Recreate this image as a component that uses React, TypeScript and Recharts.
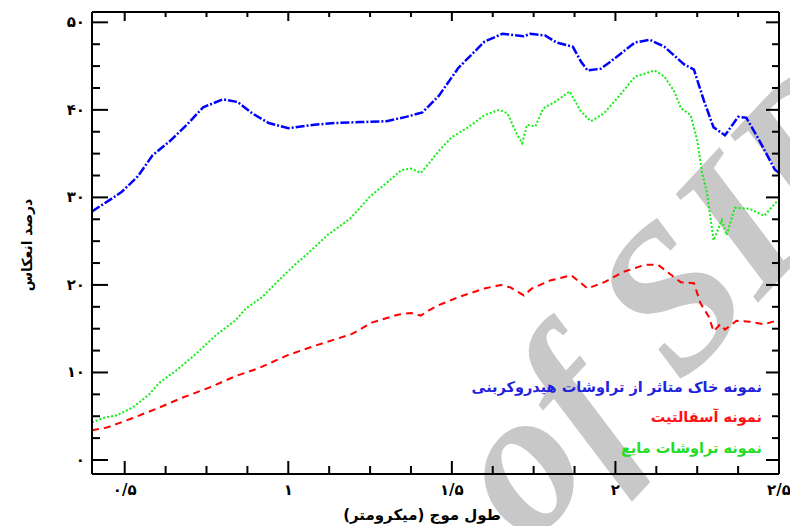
import React from 'react';
import { LineChart, Line, XAxis, YAxis } from 'recharts';

// wavelength (micrometre) / reflectance (%)
const blueX = [0.4, 0.45, 0.49, 0.54, 0.585, 0.64, 0.69, 0.74, 0.8, 0.845, 0.89, 0.94, 1.0, 1.08, 1.145, 1.22, 1.3, 1.36, 1.41, 1.46, 1.52, 1.6, 1.655, 1.72, 1.74, 1.785, 1.82, 1.87, 1.895, 1.915, 1.955, 1.985, 2.06, 2.105, 2.15, 2.21, 2.24, 2.27, 2.3, 2.335, 2.375, 2.4, 2.44, 2.487, 2.5];
const blueY = [28.4, 29.6, 30.6, 32.4, 34.8, 36.5, 38.3, 40.3, 41.2, 40.9, 39.6, 38.5, 37.9, 38.3, 38.5, 38.6, 38.7, 39.2, 39.7, 41.6, 44.8, 47.8, 48.7, 48.4, 48.7, 48.5, 47.7, 47.2, 45.5, 44.5, 44.7, 45.5, 47.7, 48.0, 47.2, 45.2, 44.6, 41.1, 38.0, 37.1, 39.2, 39.1, 36.5, 33.2, 32.8];

const redX = [0.4, 0.445, 0.525, 0.6, 0.675, 0.76, 0.84, 0.91, 1.0, 1.085, 1.195, 1.255, 1.335, 1.375, 1.405, 1.43, 1.46, 1.52, 1.6, 1.65, 1.68, 1.72, 1.745, 1.8, 1.865, 1.895, 1.915, 1.965, 2.025, 2.09, 2.13, 2.165, 2.2, 2.24, 2.26, 2.285, 2.3, 2.32, 2.335, 2.37, 2.41, 2.455, 2.49, 2.5];
const redY = [3.4, 3.7, 4.8, 5.9, 7.1, 8.3, 9.6, 10.5, 12.0, 13.1, 14.4, 15.7, 16.6, 16.8, 16.5, 17.1, 17.7, 18.6, 19.6, 20.0, 19.7, 18.8, 19.6, 20.5, 21.1, 20.2, 19.6, 20.3, 21.5, 22.3, 22.3, 21.3, 20.3, 20.2, 17.9, 16.4, 14.7, 15.5, 14.9, 15.9, 15.8, 15.5, 15.9, 16.0];

const greenX = [0.4, 0.435, 0.475, 0.525, 0.575, 0.605, 0.66, 0.72, 0.78, 0.84, 0.87, 0.92, 0.97, 1.02, 1.06, 1.12, 1.19, 1.25, 1.305, 1.345, 1.375, 1.405, 1.43, 1.46, 1.5, 1.55, 1.6, 1.645, 1.67, 1.695, 1.715, 1.73, 1.755, 1.78, 1.815, 1.86, 1.895, 1.925, 1.965, 2.005, 2.06, 2.12, 2.15, 2.18, 2.2, 2.23, 2.25, 2.265, 2.28, 2.3, 2.325, 2.34, 2.365, 2.41, 2.455, 2.49, 2.5];
const greenY = [4.3, 4.8, 5.1, 6.0, 7.5, 8.8, 10.3, 12.2, 14.3, 16.0, 17.3, 18.6, 20.5, 22.3, 23.6, 25.7, 27.6, 30.1, 31.8, 33.1, 33.3, 32.8, 33.9, 35.3, 36.9, 38.0, 39.4, 40.0, 39.6, 37.5, 36.2, 38.3, 38.1, 40.2, 40.9, 42.1, 39.8, 38.7, 39.6, 41.3, 43.8, 44.5, 43.8, 42.1, 40.2, 39.4, 36.5, 32.8, 30.5, 25.1, 27.4, 25.7, 28.8, 28.7, 27.9, 29.4, 29.7];

const xMajorTicks = [0.5, 1, 1.5, 2, 2.5];
const xTickLabels = ['۰/۵', '۱', '۱/۵', '۲', '۲/۵'];
const xMinorTicks = [0.625, 0.75, 0.875, 1.125, 1.25, 1.375, 1.625, 1.75, 1.875, 2.125, 2.25, 2.375];
const yMajorTicks = [0, 10, 20, 30, 40, 50];
const yTickLabels = ['۰', '۱۰', '۲۰', '۳۰', '۴۰', '۵۰'];
const yMinorTicks = [2.5, 5, 7.5, 12.5, 15, 17.5, 22.5, 25, 27.5, 32.5, 35, 37.5, 42.5, 45, 47.5];

const seriesNames = [
  'نمونه خاک متاثر از تراوشات هیدروکربنی',
  'نمونه آسفالتیت',
  'نمونه تراوشات مایع',
];
const xTitle = 'طول موج (میکرومتر)';
const yTitle = 'درصد انعکاس';

const zip = (xs: number[], ys: number[]) => xs.map((x, i) => ({ x, y: ys[i] }));
const blueData = zip(blueX, blueY);
const redData = zip(redX, redY);
const greenData = zip(greenX, greenY);

const FONT = '"DejaVu Sans", sans-serif';
const X_DOMAIN: [number, number] = [0.4, 2.5];
const Y_DOMAIN: [number, number] = [-1.6, 51.18];
const PLOT_W = 687;
const PLOT_H = 462;
// tick lengths are given in pixels, turned into axis units
const xu = (px: number) => (px * (X_DOMAIN[1] - X_DOMAIN[0])) / PLOT_W;
const yu = (px: number) => (px * (Y_DOMAIN[1] - Y_DOMAIN[0])) / PLOT_H;
const frame = { stroke: '#000', strokeWidth: 2 };

// inward tick marks as tiny two-point series, so they go through the chart's scales
type Pt = { x: number; y: number };
const tickMarks: { key: string; data: Pt[] }[] = [];
{
  const [x0, x1] = X_DOMAIN;
  const [y0, y1] = Y_DOMAIN;
  const add = (key: string, a: Pt, b: Pt) => tickMarks.push({ key, data: [a, b] });
  xMajorTicks.forEach((v) => {
    add(`bM${v}`, { x: v, y: y0 }, { x: v, y: y0 + yu(13) });
    add(`tM${v}`, { x: v, y: y1 }, { x: v, y: y1 - yu(9) });
  });
  xMinorTicks.forEach((v) => {
    add(`bm${v}`, { x: v, y: y0 }, { x: v, y: y0 + yu(8) });
    add(`tm${v}`, { x: v, y: y1 }, { x: v, y: y1 - yu(5) });
  });
  yMajorTicks.forEach((v) => {
    add(`lM${v}`, { x: x0, y: v }, { x: x0 + xu(16), y: v });
    add(`rM${v}`, { x: x1, y: v }, { x: x1 - xu(13), y: v });
  });
  yMinorTicks.forEach((v) => {
    add(`lm${v}`, { x: x0, y: v }, { x: x0 + xu(8), y: v });
    add(`rm${v}`, { x: x1, y: v }, { x: x1 - xu(7), y: v });
  });
}

const BottomLabel = (props: any) => {
  const { x, y, payload } = props;
  const idx = xMajorTicks.indexOf(payload.value);
  return (
    <text x={x} y={y + 21} textAnchor="middle" fontFamily={FONT} fontSize={15} fontWeight="bold" fill="#000">
      {xTickLabels[idx]}
    </text>
  );
};

const LeftLabel = (props: any) => {
  const { x, y, payload } = props;
  const idx = yMajorTicks.indexOf(payload.value);
  return (
    <text x={x - 7} y={y + 5} textAnchor="end" fontFamily={FONT} fontSize={15} fontWeight="bold" fill="#000">
      {yTickLabels[idx]}
    </text>
  );
};

export default function App() {
  return (
    <div style={{ position: 'absolute', left: 0, top: 0, width: 790, height: 526, overflow: 'hidden', background: '#fff' }}>
      {/* watermark, behind everything */}
      <svg width={790} height={526} style={{ position: 'absolute', left: 0, top: 0 }}>
        <text
          x={530}
          y={547}
          transform="rotate(-47 530 547)"
          fontFamily='"Liberation Serif", serif'
          fontStyle="italic"
          fontWeight="bold"
          fontSize={205}
          fill="#c8c8c8"
        >
          of SID
        </text>
      </svg>

      <div style={{ position: 'absolute', left: 0, top: 0 }}>
        <LineChart width={790} height={526} margin={{ top: 11, right: 10, bottom: 12, left: 32 }}>
          <XAxis
            xAxisId="b"
            type="number"
            dataKey="x"
            domain={X_DOMAIN}
            allowDataOverflow
            ticks={xMajorTicks}
            interval={0}
            height={40}
            tickSize={0}
            tickMargin={0}
            tickLine={false}
            axisLine={frame}
            tick={BottomLabel}
          />
          <XAxis xAxisId="t" orientation="top" type="number" domain={X_DOMAIN} allowDataOverflow height={1} tick={false} tickLine={false} axisLine={frame} />
          <YAxis
            yAxisId="l"
            type="number"
            domain={Y_DOMAIN}
            allowDataOverflow
            ticks={yMajorTicks}
            interval={0}
            width={60}
            tickSize={0}
            tickMargin={0}
            tickLine={false}
            axisLine={frame}
            tick={LeftLabel}
          />
          <YAxis yAxisId="r" orientation="right" type="number" domain={Y_DOMAIN} allowDataOverflow width={1} tick={false} tickLine={false} axisLine={frame} />
          {tickMarks.map((t) => (
            <Line
              key={t.key}
              xAxisId="b"
              yAxisId="l"
              data={t.data}
              dataKey="y"
              stroke="#000"
              strokeWidth={2}
              dot={false}
              activeDot={false}
              legendType="none"
              isAnimationActive={false}
            />
          ))}
          <Line xAxisId="b" yAxisId="l" data={redData} dataKey="y" stroke="#ff0000" strokeWidth={2} strokeDasharray="7 5" dot={false} isAnimationActive={false} />
          <Line xAxisId="b" yAxisId="l" data={greenData} dataKey="y" stroke="#11ee11" strokeWidth={2} strokeDasharray="2 2" dot={false} isAnimationActive={false} />
          <Line xAxisId="b" yAxisId="l" data={blueData} dataKey="y" stroke="#0000ff" strokeWidth={2.5} strokeDasharray="9 2 2 2" dot={false} isAnimationActive={false} />
        </LineChart>
      </div>

      {/* titles and legend */}
      <svg width={790} height={526} style={{ position: 'absolute', left: 0, top: 0, pointerEvents: 'none' }}>
        <text x={422} y={520} textAnchor="middle" direction="rtl" fontFamily={FONT} fontSize={15} fontWeight="bold" fill="#000">
          {xTitle}
        </text>
        <text x={0} y={0} transform="translate(32 245) rotate(-90)" textAnchor="middle" direction="rtl" fontFamily={FONT} fontSize={14} fontWeight="bold" fill="#000">
          {yTitle}
        </text>
        <text x={762} y={392} textAnchor="end" fontFamily={FONT} fontSize={14.5} fontWeight="bold" fill="#2222dd">
          {seriesNames[0]}
        </text>
        <text x={762} y={422} textAnchor="end" fontFamily={FONT} fontSize={14.5} fontWeight="bold" fill="#ff1111">
          {seriesNames[1]}
        </text>
        <text x={762} y={453} textAnchor="end" fontFamily={FONT} fontSize={14.5} fontWeight="bold" fill="#22dd22">
          {seriesNames[2]}
        </text>
      </svg>
    </div>
  );
}
